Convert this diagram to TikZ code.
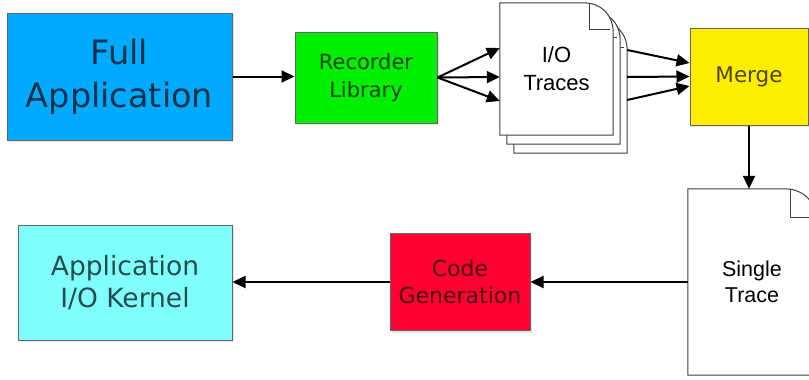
\documentclass[tikz,border=0pt]{standalone}
\usepackage{fontspec}
\setmainfont{DejaVu Sans}
\newfontfamily\arialfont{Liberation Sans}
\usetikzlibrary{arrows.meta, positioning, shadows, calc}

\definecolor{appblue}{RGB}{0,170,255}
\definecolor{recgreen}{RGB}{0,238,0}
\definecolor{mergeyellow}{RGB}{255,238,0}
\definecolor{codered}{RGB}{255,0,51}
\definecolor{kernelcyan}{RGB}{128,255,255}
\definecolor{boxgray}{RGB}{100,100,100}

% page with a curled corner, drawn on a named (empty) node
\newcommand{\docpaper}[2]{%
  \draw[paper] (#1.north west) -- ([xshift=-#2pt]#1.north east)
    .. controls ([xshift=-0.4*#2pt]#1.north east) and ([yshift=-0.4*#2pt]#1.north east)
    .. ([yshift=-#2pt]#1.north east) -- (#1.south east) -- (#1.south west) -- cycle;
  \draw[paper, fill=none] ([xshift=-0.8*#2pt]#1.north east)
    -- ([xshift=-0.8*#2pt, yshift=-0.9*#2pt]#1.north east)
    -- ([xshift=-0.1*#2pt, yshift=-0.9*#2pt]#1.north east);}

\begin{document}
\begin{tikzpicture}[x=1pt, y=-1pt,
  box/.style={draw=boxgray, line width=1pt, align=center, inner sep=0pt,
    text=black, text opacity=0.7,
    drop shadow={shadow xshift=2pt, shadow yshift=-2pt, opacity=0.2}},
  paper/.style={draw=black!75, fill=white, line width=1pt},
  sheet/.style={draw=none, inner sep=0pt},
  arr/.style={-{Triangle[length=13pt, width=12pt]}, line width=2pt}]
  \useasboundingbox (0,0) rectangle (809,380);
  \clip (0,0) rectangle (809,380);

  % top row
  \node[box, fill=appblue, minimum width=225pt, minimum height=127pt,
    font=\fontsize{33.5}{43}\selectfont] (fullapp) at (119.5,76.5) {Full\\Application};
  \node[box, fill=recgreen, minimum width=142pt, minimum height=91pt,
    font=\fontsize{21}{28}\selectfont] (reclib) at (366,77.5) {Recorder\\Library};

  % stack of trace files
  \node[sheet, minimum width=113pt, minimum height=132pt] (traces3) at (570.5,87) {};
  \node[sheet, minimum width=113pt, minimum height=133pt] (traces2) at (563.5,77.5) {};
  \node[sheet, minimum width=113pt, minimum height=132pt] (traces) at (556.5,69) {};
  \docpaper{traces3}{30}
  \docpaper{traces2}{30}
  \docpaper{traces}{30}
  \node[align=center, font=\arialfont\fontsize{22}{28}\selectfont] (tracestext) at (traces) {I/O\\Traces};

  \node[box, fill=mergeyellow, minimum width=118pt, minimum height=97pt,
    font=\fontsize{21.5}{28}\selectfont] (merge) at (749,76.5) {Merge};

  % bottom row
  \node[sheet, minimum width=128pt, minimum height=186pt] (strace) at (752,282) {};
  \docpaper{strace}{32}
  \node[align=center, font=\arialfont\fontsize{21.5}{26}\selectfont] (stracetext) at (strace) {Single\\Trace};

  \node[box, fill=codered, minimum width=140pt, minimum height=97pt,
    font=\fontsize{22}{27}\selectfont] (codegen) at (460,282) {Code\\Generation};
  \node[box, fill=kernelcyan, minimum width=214pt, minimum height=115pt,
    font=\fontsize{26.5}{32}\selectfont] (kernel) at (125,282.5) {Application\\I/O Kernel};

  % connectors
  \draw[arr] (fullapp.east) -- (fullapp.east -| reclib.west);
  \draw[arr] (reclib.east) -- ([yshift=21pt]traces.west);
  \draw[arr] (reclib.east) -- ([yshift=-8pt]traces.west);
  \draw[arr] (reclib.east) -- ([yshift=-32pt]traces.west);
  \draw[arr] ([yshift=37pt]traces3.east) -- ([yshift=13.5pt]merge.west);
  \draw[arr] ([yshift=10pt]traces3.east) -- (merge.west);
  \draw[arr] ([yshift=-13pt]traces3.east) -- ([yshift=-9.5pt]merge.west);
  \draw[arr] (merge.south) -- (merge.south |- strace.north);
  \draw[arr] (strace.west) -- (strace.west -| codegen.east);
  \draw[arr] (codegen.west) -- (codegen.west -| kernel.east);
\end{tikzpicture}
\end{document}
